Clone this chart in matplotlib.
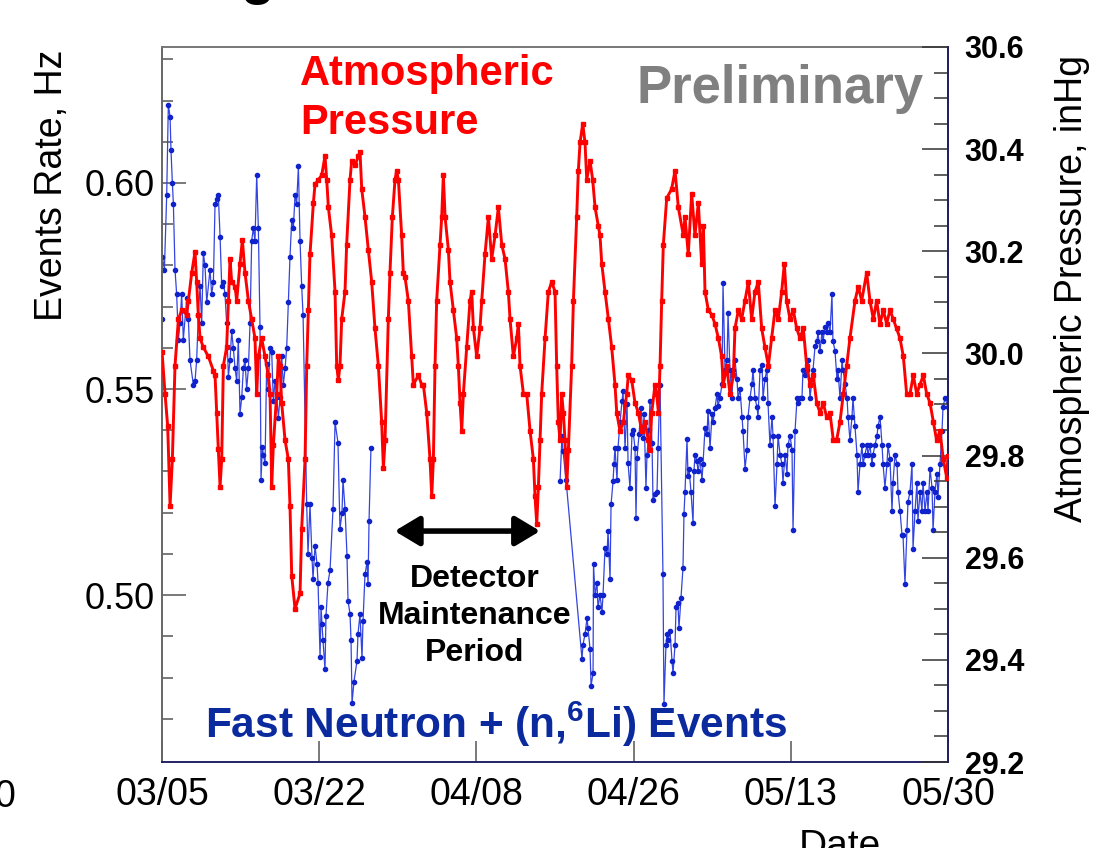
import numpy as np
import matplotlib
matplotlib.use('Agg')
import matplotlib.pyplot as plt
from matplotlib.ticker import MultipleLocator, FixedLocator

plt.rcParams['font.family'] = ['Liberation Sans', 'DejaVu Sans']
plt.rcParams['mathtext.fontset'] = 'custom'
plt.rcParams['mathtext.rm'] = 'Liberation Sans'
plt.rcParams['mathtext.bf'] = 'Liberation Sans:bold'

# days since 03/05, atmospheric pressure (inHg)
p_day = [0.00, 0.33, 0.62, 0.88, 1.13, 1.42, 1.79, 2.15, 2.70, 2.88, 3.25, 3.61, 3.79, 3.97, 4.16,
         4.52, 5.07, 5.62, 5.80, 5.98, 6.16, 6.35, 6.53, 6.71, 7.07, 7.26, 7.44, 7.62, 7.99, 8.17,
         8.53, 8.79, 9.08, 9.45, 9.81, 10.17, 10.36, 10.54, 10.90, 11.27, 11.63, 11.82, 12.00, 12.18,
         12.55, 12.73, 12.91, 13.09, 13.46, 13.82, 14.00, 14.19, 14.55, 15.10, 15.28, 15.65, 15.83,
         16.01, 16.19, 16.56, 16.74, 17.10, 17.47, 17.83, 18.02, 18.20, 18.56, 18.93, 19.11, 19.29,
         19.47, 19.66, 20.02, 20.20, 20.57, 20.75, 21.12, 21.48, 21.66, 21.85, 22.21, 22.57, 22.94,
         23.30, 23.67, 24.03, 24.22, 24.40, 24.76, 24.94, 25.20, 25.49, 25.67, 25.86, 26.22, 26.40,
         26.59, 26.95, 27.32, 27.50, 28.05, 28.41, 28.59, 28.96, 29.32, 29.51, 29.69, 29.87, 30.05,
         30.42, 30.60, 30.78, 30.97, 31.33, 31.51, 31.88, 32.24, 32.42, 32.61, 32.79, 32.97, 33.34,
         33.70, 33.88, 34.07, 34.43, 34.79, 34.98, 35.34, 35.71, 36.07, 36.44, 36.80, 37.17, 37.53,
         37.89, 38.08, 38.44, 38.81, 38.99, 39.17, 39.54, 39.90, 40.27, 40.63, 40.81, 41.00, 41.18,
         41.36, 41.54, 41.91, 42.27, 42.64, 43.00, 43.18, 43.36, 43.55, 43.73, 43.91, 44.09, 44.28,
         44.46, 44.82, 45.01, 45.37, 45.55, 45.74, 46.03, 46.28, 46.47, 46.83, 47.12, 47.38, 47.74,
         47.92, 48.11, 48.47, 48.84, 49.20, 49.56, 49.75, 50.11, 50.48, 50.84, 51.02, 51.39, 51.75,
         52.12, 52.48, 52.85, 53.21, 53.39, 53.58, 53.94, 54.12, 54.31, 54.49, 54.67, 54.85, 55.22,
         55.76, 56.13, 56.49, 57.04, 57.22, 57.58, 57.95, 58.31, 58.68, 59.04, 59.23, 59.41, 59.77,
         60.14, 60.50, 60.87, 61.23, 61.41, 61.78, 62.14, 62.51, 62.69, 63.06, 63.42, 63.78, 64.15,
         64.51, 64.88, 65.24, 65.61, 65.97, 66.34, 66.70, 67.07, 67.43, 67.80, 68.09, 68.34, 68.71,
         69.07, 69.44, 69.80, 70.17, 70.53, 70.90, 71.26, 71.63, 71.99, 72.35, 72.72, 73.08, 73.45,
         73.81, 74.18, 74.54, 74.91, 75.27, 75.82, 76.18, 76.55, 77.10, 77.46, 77.83, 78.19, 78.55,
         78.92, 79.28, 79.65, 80.01, 80.38, 80.74, 81.11, 81.47, 81.84, 82.20, 82.57, 82.93, 83.30,
         83.66, 84.03, 84.39, 84.75, 85.12, 85.48, 85.85, 86.00]
pressure = [30.003, 29.921, 29.857, 29.702, 29.793, 29.976, 30.067, 30.085, 30.076, 30.103, 30.158,
            30.199, 30.140, 30.076, 30.030, 30.012, 29.994, 29.966, 29.957, 29.884, 29.812, 29.739,
            29.793, 29.976, 30.012, 30.103, 30.185, 30.140, 30.131, 30.103, 30.176, 30.222, 30.158,
            30.103, 30.067, 30.030, 29.921, 29.994, 30.030, 29.994, 29.957, 29.921, 29.739, 29.821,
            29.921, 29.994, 29.976, 29.903, 29.830, 29.793, 29.702, 29.565, 29.500, 29.530, 29.657,
            29.793, 29.976, 30.085, 30.194, 30.295, 30.331, 30.340, 30.349, 30.386, 30.340, 30.286,
            30.231, 30.121, 29.976, 29.948, 29.976, 30.067, 30.121, 30.213, 30.340, 30.377, 30.368,
            30.386, 30.395, 30.322, 30.267, 30.203, 30.140, 30.049, 29.976, 29.866, 29.775, 29.830,
            30.067, 30.158, 30.267, 30.340, 30.358, 30.340, 30.231, 30.158, 30.149, 30.103, 29.994,
            29.939, 29.957, 29.939, 29.939, 29.884, 29.793, 29.720, 29.793, 29.976, 30.103, 30.213,
            30.267, 30.349, 30.267, 30.203, 30.140, 30.085, 30.030, 29.976, 29.903, 29.848, 29.921,
            30.012, 30.103, 30.121, 30.049, 29.994, 30.049, 30.103, 30.194, 30.267, 30.185, 30.231,
            30.286, 30.213, 30.185, 30.121, 30.067, 29.994, 30.030, 30.058, 29.976, 29.921, 29.921,
            29.848, 29.793, 29.720, 29.666, 29.739, 29.830, 29.921, 30.030, 30.121, 30.140, 30.121,
            29.976, 29.866, 29.830, 29.921, 29.884, 29.830, 29.739, 29.811, 29.976, 30.103, 30.267,
            30.358, 30.413, 30.450, 30.413, 30.340, 30.377, 30.340, 30.286, 30.249, 30.231, 30.176,
            30.121, 30.067, 30.012, 29.939, 29.884, 29.848, 29.866, 29.921, 29.957, 29.948, 29.903,
            29.884, 29.848, 29.866, 29.830, 29.811, 29.884, 29.939, 29.921, 29.884, 29.976, 30.103,
            30.213, 30.304, 30.322, 30.358, 30.286, 30.231, 30.267, 30.194, 30.313, 30.231, 30.295,
            30.176, 30.249, 30.121, 30.085, 30.076, 30.058, 30.030, 29.994, 29.939, 29.976, 29.921,
            29.957, 30.049, 30.085, 30.067, 30.103, 30.140, 30.067, 30.121, 30.140, 30.049, 30.012,
            29.976, 30.030, 30.085, 30.067, 30.121, 30.176, 30.103, 30.067, 30.085, 30.049, 30.030,
            30.049, 29.976, 29.939, 29.957, 29.903, 29.884, 29.903, 29.875, 29.884, 29.830, 29.830,
            29.866, 29.921, 29.976, 30.030, 30.103, 30.131, 30.103, 30.158, 30.103, 30.067, 30.103,
            30.058, 30.085, 30.058, 30.085, 30.067, 30.049, 30.030, 29.994, 29.921, 29.921, 29.957,
            29.921, 29.939, 29.957, 29.921, 29.903, 29.866, 29.830, 29.848, 29.793, 29.757, 29.800]

# days since 03/05, events rate (Hz); NaN marks the detector maintenance gap
r_day = [0.00, 0.04, 0.26, 0.51, 0.69, 0.88, 0.98, 1.13, 1.24, 1.42, 1.60, 1.79, 1.97, 2.15, 2.33,
         2.70, 2.88, 3.06, 3.43, 3.61, 3.79, 3.97, 4.16, 4.34, 4.52, 4.70, 4.89, 5.25, 5.43, 5.62,
         5.80, 5.98, 6.16, 6.35, 6.53, 6.71, 6.89, 7.07, 7.26, 7.44, 7.62, 7.80, 7.99, 8.17, 8.35,
         8.53, 8.72, 8.90, 9.08, 9.26, 9.45, 9.63, 9.81, 9.99, 10.17, 10.36, 10.54, 10.72, 10.83,
         10.98, 11.09, 11.27, 11.45, 11.63, 11.82, 12.00, 12.18, 12.36, 12.55, 12.73, 12.91, 13.09,
         13.27, 13.46, 13.64, 13.82, 14.00, 14.19, 14.37, 14.55, 14.73, 14.92, 15.10, 15.28, 15.43,
         15.83, 15.97, 16.19, 16.41, 16.52, 16.74, 16.96, 17.07, 17.29, 17.40, 17.50, 17.61, 17.83,
         17.94, 18.16, 18.38, 18.71, 18.93, 19.25, 19.47, 19.69, 19.80, 20.02, 20.24, 20.35, 20.57,
         20.68, 20.79, 21.00, 21.33, 21.44, 21.66, 21.88, 21.99, 22.21, 22.43, 22.54, 22.65, 22.86,
         33.00,
         43.55, 43.76, 43.87, 44.20, 45.95, 46.06, 46.28, 46.50, 46.61, 46.83, 46.94, 47.16, 47.21,
         47.38, 47.59, 47.70, 47.92, 48.14, 48.25, 48.47, 48.69, 48.80, 49.02, 49.13, 49.35, 49.45,
         49.56, 49.78, 49.89, 50.11, 50.33, 50.44, 50.66, 50.88, 50.99, 51.20, 51.42, 51.53, 51.75,
         51.86, 51.97, 52.19, 52.41, 52.63, 52.74, 52.95, 53.06, 53.28, 53.39, 53.61, 53.72, 53.94,
         54.16, 54.27, 54.49, 54.81, 54.92, 55.14, 55.25, 55.36, 55.58, 55.80, 55.91, 56.13, 56.24,
         56.45, 56.56, 56.78, 57.00, 57.11, 57.22, 57.44, 57.55, 57.66, 57.88, 58.10, 58.20, 58.31,
         58.53, 58.64, 58.86, 59.08, 59.19, 59.41, 59.63, 59.74, 59.96, 60.18, 60.29, 60.50, 60.72,
         60.83, 61.05, 61.27, 61.38, 61.60, 61.82, 61.93, 62.14, 62.36, 62.47, 62.69, 62.91, 63.02,
         63.24, 63.46, 63.57, 63.79, 64.01, 64.12, 64.33, 64.55, 64.66, 64.88, 65.10, 65.21, 65.43,
         65.65, 65.76, 65.97, 66.19, 66.30, 66.52, 66.74, 66.85, 67.07, 67.29, 67.40, 67.62, 67.83,
         67.94, 68.16, 68.38, 68.49, 68.71, 68.93, 69.04, 69.26, 69.48, 69.58, 69.80, 70.02, 70.13,
         70.35, 70.57, 70.68, 70.90, 71.12, 71.23, 71.45, 71.66, 71.77, 71.99, 72.21, 72.32, 72.54,
         72.76, 72.87, 73.09, 73.30, 73.41, 73.63, 73.85, 73.96, 74.18, 74.40, 74.51, 74.73, 74.95,
         75.06, 75.27, 75.49, 75.60, 75.82, 76.04, 76.15, 76.37, 76.59, 76.70, 76.92, 77.13, 77.24,
         77.46, 77.68, 77.79, 78.01, 78.23, 78.34, 78.56, 78.78, 78.89, 79.10, 79.32, 79.43, 79.65,
         79.87, 79.98, 80.20, 80.42, 80.53, 80.75, 80.96, 81.07, 81.29, 81.51, 81.62, 81.84, 82.06,
         82.17, 82.39, 82.60, 82.71, 82.93, 83.15, 83.26, 83.48, 83.70, 83.81, 84.03, 84.25, 84.36,
         84.57, 84.79, 84.90, 85.12, 85.34, 85.45, 85.67, 86.00]
rate = [0.567, 0.582, 0.579, 0.597, 0.619, 0.616, 0.608, 0.600, 0.595, 0.579, 0.573, 0.562, 0.566,
        0.573, 0.562, 0.572, 0.567, 0.557, 0.551, 0.552, 0.557, 0.568, 0.575, 0.566, 0.583, 0.580,
        0.571, 0.579, 0.573, 0.576, 0.595, 0.596, 0.597, 0.587, 0.575, 0.576, 0.573, 0.566, 0.553,
        0.557, 0.564, 0.560, 0.555, 0.552, 0.562, 0.544, 0.548, 0.555, 0.557, 0.550, 0.555, 0.566,
        0.586, 0.589, 0.586, 0.602, 0.589, 0.565, 0.528, 0.536, 0.534, 0.532, 0.556, 0.550, 0.560,
        0.559, 0.547, 0.552, 0.548, 0.543, 0.548, 0.558, 0.551, 0.555, 0.560, 0.571, 0.582, 0.591,
        0.589, 0.597, 0.595, 0.604, 0.586, 0.575, 0.568, 0.522, 0.510, 0.522, 0.509, 0.504, 0.512,
        0.5075, 0.503, 0.485, 0.497, 0.493, 0.489, 0.482, 0.495, 0.503, 0.506, 0.521, 0.542, 0.537,
        0.516, 0.520, 0.528, 0.521, 0.5095, 0.4986, 0.4954, 0.489, 0.4738, 0.479, 0.484, 0.4905,
        0.4954, 0.4847, 0.4937, 0.5051, 0.508, 0.5027, 0.518, 0.5357,
        np.nan,
        0.5277, 0.5386, 0.535, 0.528, 0.4845, 0.488, 0.4905, 0.4944, 0.492, 0.487, 0.478, 0.481,
        0.5075, 0.500, 0.503, 0.497, 0.500, 0.496, 0.500, 0.5115, 0.510, 0.5155, 0.504, 0.522,
        0.5277, 0.5318, 0.5357, 0.528, 0.5357, 0.542, 0.547, 0.5495, 0.5357, 0.5464, 0.532, 0.526,
        0.539, 0.540, 0.5357, 0.5187, 0.5333, 0.539, 0.5454, 0.538, 0.544, 0.526, 0.534, 0.540,
        0.547, 0.537, 0.523, 0.5245, 0.525, 0.5357, 0.551, 0.505, 0.4735, 0.488, 0.4905, 0.489,
        0.4913, 0.484, 0.481, 0.488, 0.497, 0.498, 0.492, 0.4993, 0.5066, 0.5197, 0.525, 0.5378,
        0.529, 0.5306, 0.525, 0.5175, 0.530, 0.534, 0.5325, 0.530, 0.533, 0.528, 0.5318, 0.5405,
        0.539, 0.5447, 0.5357, 0.544, 0.542, 0.5454, 0.5488, 0.546, 0.5478, 0.5513, 0.5758, 0.5547,
        0.557, 0.5684, 0.5547, 0.5478, 0.5547, 0.557, 0.5524, 0.5478, 0.550, 0.5433, 0.5398, 0.5307,
        0.5353, 0.5433, 0.5478, 0.5513, 0.5547, 0.5478, 0.5456, 0.5433, 0.5547, 0.5558, 0.5478,
        0.5524, 0.5547, 0.5467, 0.5364, 0.5433, 0.5387, 0.5215, 0.5318, 0.5387, 0.5341, 0.5318,
        0.5273, 0.5341, 0.5295, 0.5364, 0.5387, 0.5353, 0.5158, 0.5398, 0.5478, 0.5467, 0.5478,
        0.5478, 0.5547, 0.5535, 0.5547, 0.557, 0.5478, 0.5524, 0.5547, 0.5604, 0.5616, 0.5638,
        0.5593, 0.5638, 0.5616, 0.565, 0.5638, 0.5661, 0.5638, 0.573, 0.5616, 0.5593, 0.5524,
        0.5547, 0.5478, 0.557, 0.5547, 0.5513, 0.5478, 0.5433, 0.5376, 0.5433, 0.5478, 0.541,
        0.5341, 0.525, 0.5318, 0.5364, 0.5318, 0.5341, 0.5364, 0.5341, 0.5364, 0.5318, 0.5341,
        0.5364, 0.5387, 0.541, 0.5433, 0.5364, 0.5318, 0.5261, 0.5318, 0.5364, 0.533, 0.5204,
        0.5273, 0.5341, 0.5318, 0.525, 0.5204, 0.5147, 0.5147, 0.5027, 0.5158, 0.5227, 0.525,
        0.5318, 0.5113, 0.5204, 0.5273, 0.5181, 0.525, 0.5204, 0.5273, 0.5204, 0.525, 0.5204,
        0.5307, 0.5261, 0.5158, 0.525, 0.5295, 0.5238, 0.5318, 0.5398, 0.5456, 0.5478, 0.5456]

date_labels = ['03/05', '03/22', '04/08', '04/26', '05/13', '05/30']
rate_ticks = [0.50, 0.55, 0.60]
rate_minor = [0.47, 0.48, 0.49, 0.51, 0.52, 0.53, 0.54, 0.56, 0.57, 0.58, 0.59, 0.61, 0.62, 0.63]

fig = plt.figure(figsize=(11.03, 8.48), dpi=100)
ax = fig.add_axes([0.1469, 0.1014, 0.7126, 0.8432])
ax2 = ax.twinx()

ax.plot(r_day, rate, '-', color='#3344e0', lw=0.9, marker='o', ms=3,
        mfc='#1022cc', mec='#1022cc', zorder=2)
ax2.plot(p_day, pressure, '-', color='#ff0000', lw=2.1, marker='s', ms=3.2,
         mfc='#ff0000', mec='#ff0000', zorder=3)

ax.set_xlim(0, 86)
ax.set_ylim(0.4595, 0.633)

ax.xaxis.set_major_locator(FixedLocator(np.linspace(0, 86, len(date_labels))))
ax.set_xticklabels(date_labels)
ax.yaxis.set_major_locator(FixedLocator(rate_ticks))
ax.yaxis.set_minor_locator(FixedLocator(rate_minor))
ax.set_yticklabels([f'{v:.2f}' for v in rate_ticks])
ax2.yaxis.set_major_locator(MultipleLocator(0.2))
ax2.yaxis.set_minor_locator(MultipleLocator(0.05))
ax2.set_ylim(29.2, 30.6)
ax2.set_yticklabels([f'{v:.1f}' for v in ax2.get_yticks()], fontweight='bold')
ax2.set_ylim(29.2, 30.6)

ax.tick_params(axis='x', which='both', direction='in', length=15, width=1.1, color='#555555',
               labelsize=27, pad=11, top=False)
ax.tick_params(axis='y', which='major', direction='in', length=17, width=1.1, color='#555555',
               labelsize=26, pad=5, right=False)
ax.tick_params(axis='y', which='minor', direction='in', length=8, width=1.1, color='#555555', right=False)
ax2.tick_params(axis='y', which='major', direction='in', length=19, width=1.1, color='#333333',
                labelsize=22, pad=12)
ax2.tick_params(axis='y', which='minor', direction='in', length=10, width=1.1, color='#333333')

for name, sp in ax.spines.items():
    sp.set_linewidth(1.4)
ax.spines['left'].set_color('#666666')
ax.spines['top'].set_color('#777777')
ax.spines['bottom'].set_color('#222266')
ax2.spines['right'].set_color('#222266')
ax2.spines['right'].set_linewidth(1.4)
ax2.spines['left'].set_visible(False)
ax2.spines['top'].set_visible(False)
ax2.spines['bottom'].set_visible(False)

# axis titles
fig.text(52 / 1103, 1 - 185 / 848, 'Events Rate, Hz', rotation=90, ha='center', va='center', fontsize=27)
fig.text(1072 / 1103, 1 - 289 / 848, 'Atmospheric Pressure, inHg', rotation=90, ha='center',
         va='center', fontsize=27)
fig.text(840 / 1103, 1 - 829 / 848, 'Date', ha='center', va='top', fontsize=28)
fig.text(15 / 1103, 1 - 797 / 848, '0', ha='right', va='center', fontsize=27)
fig.text(258 / 1103, 1 + 7 / 848, 'g', ha='center', va='baseline', fontsize=40, fontweight='bold')

# annotations
fig.text(300 / 1103, 1 - 54 / 848, 'Atmospheric\nPressure', ha='left', va='top', color='#ff0000',
         fontsize=30, fontweight='bold', linespacing=1.3)
fig.text(636 / 1103, 1 - 103 / 848, 'Preliminary', ha='left', va='baseline', color='#808080',
         fontsize=38, fontweight='bold')
fig.text(205 / 1103, 1 - 738 / 848, 'Fast Neutron + (n,$^{\\mathbf{6}}$Li) Events', ha='left',
         va='baseline', color='#0a2a9e', fontsize=30.5, fontweight='bold')
fig.text(475 / 1103, 1 - 616 / 848, 'Detector\nMaintenance\nPeriod', ha='center', va='center',
         multialignment='center', fontsize=23, fontweight='bold', linespacing=1.3)
ax.annotate('', xy=(0.481, 0.323), xytext=(0.296, 0.323), xycoords='axes fraction',
            arrowprops=dict(arrowstyle='<|-|>,head_length=0.5,head_width=0.3', lw=4, color='black',
                            mutation_scale=30, shrinkA=0, shrinkB=0))

fig.savefig('out.png', dpi=100)
